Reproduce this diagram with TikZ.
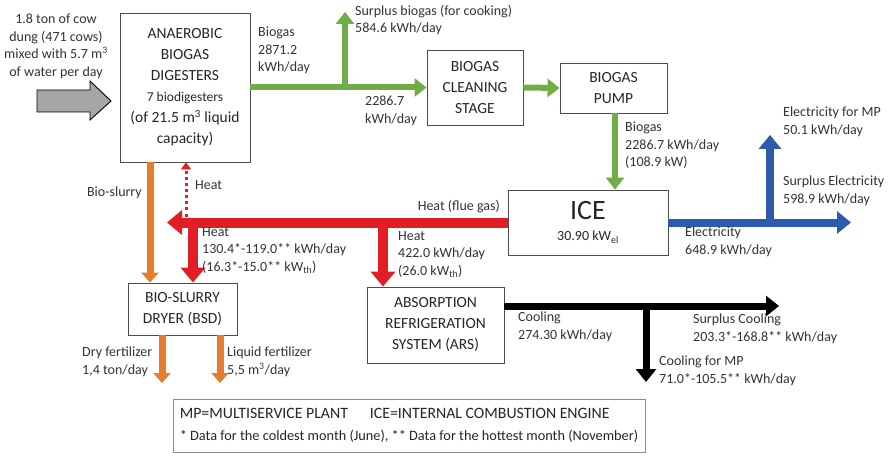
\documentclass[tikz,border=0pt]{standalone}
\usepackage{fontspec}
\setmainfont{Carlito}
\usepackage{tikz}
\usetikzlibrary{arrows.meta}

\definecolor{verde}{RGB}{112,173,71}
\definecolor{naranja}{RGB}{230,125,45}
\definecolor{rojo}{RGB}{226,30,36}
\definecolor{azul}{RGB}{46,90,170}

\begin{document}
\begin{tikzpicture}[x=1pt,y=-1pt,
  planta/.style={draw=black!70,line width=0.9pt,fill=white,align=center,inner sep=2pt,
    text=black!85,font=\fontsize{15.5}{21}\selectfont},
  dato/.style={align=left,inner sep=0pt,text=black!80,font=\fontsize{14}{17.5}\selectfont},
  gas/.style={draw=verde,line width=6pt,-{Triangle[width=18pt,length=12pt]}},
  elec/.style={draw=azul,line width=8pt,-{Triangle[width=22pt,length=14pt]}},
  calor/.style={draw=rojo,line width=10pt,-{Triangle[width=24pt,length=15pt]}},
  frio/.style={draw=black,line width=7pt,-{Triangle[width=20pt,length=13pt]}},
  lodo/.style={draw=naranja,line width=7pt,-{Triangle[width=17pt,length=10pt]}}]
  \useasboundingbox (0,0) rectangle (891,457);
  \node[planta,minimum width=130pt,minimum height=149pt] (dig) at (185,87.5)
    {ANAEROBIC\\BIOGAS\\DIGESTERS\\\fontsize{13.5}{17}\selectfont 7 biodigesters\\(of 21.5 m\textsuperscript{3} liquid\\capacity)};
  \node[planta,minimum width=96pt,minimum height=75pt] (limp) at (475,87.5) {BIOGAS\\CLEANING\\STAGE};
  \node[planta,minimum width=107pt,minimum height=50pt] (bomba) at (613.5,88) {BIOGAS\\PUMP};
  \node[planta,minimum width=160pt,minimum height=65pt] (ice) at (588,222.5)
    {\fontsize{28}{28}\selectfont ICE\\\fontsize{14}{26}\selectfont 30.90 kW\textsubscript{el}};
  \node[planta,minimum width=109pt,minimum height=52pt] (bsd) at (182.5,309) {BIO-SLURRY\\DRYER (BSD)};
  \node[planta,minimum width=137pt,minimum height=76pt] (ars) at (435.5,325) {ABSORPTION\\REFRIGERATION\\SYSTEM (ARS)};
  \node[planta,draw=black!45,align=left,minimum width=472pt,minimum height=53pt,font=\fontsize{15.8}{22}\selectfont] (ley) at (409,425.5)
    {MP=MULTISERVICE PLANT\hspace{22pt}ICE=INTERNAL COMBUSTION ENGINE\\\fontsize{14.3}{22}\selectfont * Data for the coldest month (June), ** Data for the hottest month (November)};
  \coordinate (cocina) at (345,12);
  \coordinate (elecmp) at (770,135);
  \coordinate (elecsur) at (851,222.5);
  \coordinate (calorfin) at (167,222.5);
  \coordinate (friosur) at (779,306);
  \coordinate (friomp) at (646,382);
  \coordinate (seco) at (162,383);
  \coordinate (liquido) at (220,383);
  \draw[black,line width=0.9pt,fill=black!35] (37,90) -- (90,90) -- (90,81) -- (111,101) -- (90,120) -- (90,112) -- (37,112) -- cycle;
  \node[dato,align=center,anchor=north] (entrada) at (56,14) {1.8 ton of cow\\dung (471 cows)\\mixed with 5.7 m\textsuperscript{3}\\of water per day};
  \draw[gas] (dig.east) -- (limp.west);
  \draw[gas] (cocina |- dig.east) -- (cocina);
  \draw[gas] (limp.east) -- (bomba.west);
  \draw[gas] ([xshift=1.5pt]bomba.south) -- ([xshift=1.5pt]bomba.south |- ice.north);
  \draw[elec] (ice.east) -- (elecsur);
  \draw[elec] (elecmp |- ice.east) -- (elecmp);
  \draw[calor] (ice.west) -- (calorfin);
  \draw[calor] ([xshift=10.5pt]bsd.north |- ice.west) -- ([xshift=10.5pt]bsd.north);
  \draw[calor] ([xshift=-52.5pt]ars.north |- ice.west) -- ([xshift=-52.5pt]ars.north);
  \draw[rojo,line width=3pt,dash pattern=on 3pt off 3pt,-{Triangle[width=10pt,length=7pt]}]
    ([xshift=1pt]dig.south |- ice.west) -- ([xshift=1pt]dig.south);
  \draw[lodo] ([xshift=-35pt]dig.south) -- ([xshift=-32.5pt]bsd.north);
  \draw[lodo] (seco |- bsd.south) -- (seco);
  \draw[lodo] (liquido |- bsd.south) -- (liquido);
  \draw[frio] ([yshift=19pt]ars.east) -- (friosur);
  \draw[frio] (friomp |- friosur) -- (friomp);
  \node[dato,anchor=north west] (gas1) at (258,27) {Biogas\\2871.2\\kWh/day};
  \node[dato,anchor=north west] (gas2) at (355,5) {Surplus biogas (for cooking)\\584.6 kWh/day};
  \node[dato,anchor=north west] (gas3) at (365,96) {2286.7\\kWh/day};
  \node[dato,anchor=north west] (gas4) at (625,122) {Biogas\\2286.7 kWh/day\\(108.9 kW)};
  \node[dato,anchor=north west] (el1) at (783,107) {Electricity for MP\\50.1 kWh/day};
  \node[dato,anchor=north west] (el2) at (783,176) {Surplus Electricity\\598.9 kWh/day};
  \node[dato,anchor=north west] (el3) at (685,227) {Electricity\\648.9 kWh/day};
  \node[dato,anchor=east] (cal1) at (500,207) {Heat (flue gas)};
  \node[dato,anchor=west] (cal2) at (195,185) {Heat};
  \node[dato,anchor=north west] (cal3) at (202,227) {Heat\\130.4*-119.0** kWh/day\\(16.3*-15.0** kW\textsubscript{th})};
  \node[dato,anchor=north west] (cal4) at (398,231) {Heat\\422.0 kWh/day\\(26.0 kW\textsubscript{th})};
  \node[dato,anchor=east] (lodo1) at (142,193) {Bio-slurry};
  \node[dato,anchor=north west] (lodo2) at (82,347) {Dry fertilizer\\1,4 ton/day};
  \node[dato,anchor=north west] (lodo3) at (227,347) {Liquid fertilizer\\5,5 m\textsuperscript{3}/day};
  \node[dato,anchor=north west] (fr1) at (518,312) {Cooling\\274.30 kWh/day};
  \node[dato,anchor=north west] (fr2) at (693,314) {Surplus Cooling\\203.3*-168.8** kWh/day};
  \node[dato,anchor=north west] (fr3) at (659,356) {Cooling for MP\\71.0*-105.5** kWh/day};
\end{tikzpicture}
\end{document}
